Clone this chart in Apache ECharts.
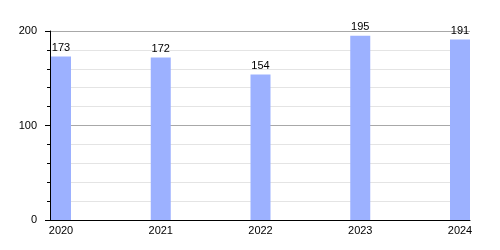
<!DOCTYPE html>
<html>
<head>
<meta charset="utf-8">
<script src="https://cdn.jsdelivr.net/npm/echarts@6/dist/echarts.min.js"></script>
<style>html,body{margin:0;padding:0;background:#fff;}#c{width:500px;height:250px;}</style>
</head>
<body>
<div id="c"></div>
<script>
const categories = ['2020', '2021', '2022', '2023', '2024'];
const values = [173, 172, 154, 195, 191];
const yTicks = [0, 100, 200];

const font = 'Liberation Sans, Arial, sans-serif';
const chart = echarts.init(document.getElementById('c'), null, {renderer: 'canvas'});
chart.setOption({
  animation: false,
  grid: [
    {left: 50, right: 30, top: 31, bottom: 30},
    {left: 61, right: 40, top: 31, bottom: 30}
  ],
  xAxis: [
    {gridIndex: 0, type: 'value', min: 0, max: 1,
     axisLine: {show: true, onZero: false, lineStyle: {color: '#000', width: 1}},
     axisTick: {show: false}, axisLabel: {show: false}, splitLine: {show: false}},
    {gridIndex: 1, type: 'category', data: categories, boundaryGap: false,
     axisLine: {show: false}, axisTick: {show: false},
     axisLabel: {color: '#000', fontSize: 11, fontFamily: font, margin: 5}}
  ],
  yAxis: [
    {gridIndex: 0, type: 'value', min: yTicks[0], max: yTicks[yTicks.length - 1], interval: 100,
     axisLine: {show: true, lineStyle: {color: '#000', width: 1}},
     axisTick: {show: true, length: 5, lineStyle: {color: '#000'}},
     minorTick: {show: true, splitNumber: 5, length: 3, lineStyle: {color: '#000'}},
     axisLabel: {color: '#000', fontSize: 11, fontFamily: font, margin: 13},
     splitLine: {show: true, lineStyle: {color: '#a8a8a8', width: 1}},
     minorSplitLine: {show: true, lineStyle: {color: '#e4e4e4', width: 1}}},
    {gridIndex: 1, type: 'value', min: 0, max: 200, show: false, splitLine: {show: false}}
  ],
  series: [{
    type: 'bar', xAxisIndex: 1, yAxisIndex: 1,
    data: values, barWidth: 20,
    itemStyle: {color: '#9cb1ff'},
    label: {show: true, position: 'top', distance: 3, color: '#000', fontSize: 11, fontFamily: font}
  }]
});
</script>
</body>
</html>
